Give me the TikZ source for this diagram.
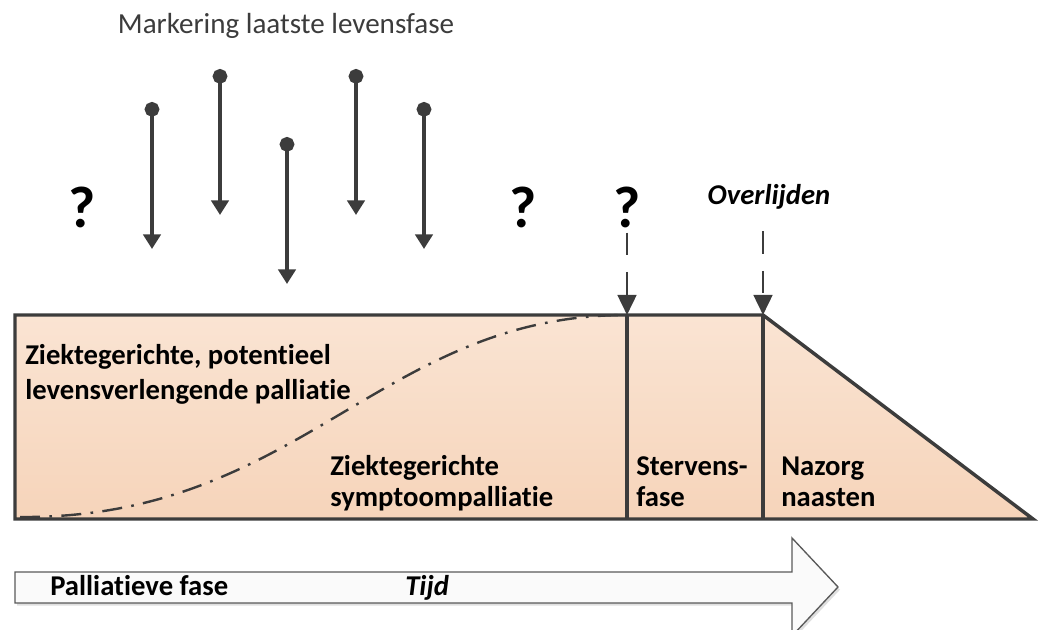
\documentclass[tikz,border=0pt]{standalone}
\usepackage{fontspec}
\setmainfont{Carlito}[Ligatures={NoCommon,NoContextual}]
\usetikzlibrary{arrows.meta,shadows}

\definecolor{linegray}{RGB}{60,60,60}
\definecolor{peachtop}{RGB}{250,228,211}
\definecolor{peachbot}{RGB}{246,212,186}

\tikzset{
  boxtext/.style={font=\fontsize{21.5}{25}\selectfont\bfseries, anchor=base west, inner sep=0pt},
  query/.style={font=\fontsize{44}{50}\selectfont\bfseries, anchor=base, inner sep=0pt},
  marker/.style={line width=3.5pt, draw=linegray, {Circle[length=11pt]}-{Triangle[length=11pt,width=13pt]}},
  phasearrow/.style={line width=2pt, draw=linegray, dash pattern=on 17pt off 12.5pt, -{Triangle[length=15pt,width=14pt]}},
}

\begin{document}
\begin{tikzpicture}[x=0.75pt, y=-0.75pt]
    \useasboundingbox (0,0) rectangle (1043,630);

    % Title
    \node[font=\fontsize{21.8}{25}\selectfont, text=linegray, anchor=base, inner sep=0pt] (title) at (286,34) {Markering laatste levensfase};

    % Markers
    \coordinate (m1s) at (152,102); \coordinate (m1e) at (152,249);
    \coordinate (m2s) at (220,69);  \coordinate (m2e) at (220,215);
    \coordinate (m3s) at (287,137); \coordinate (m3e) at (287,284);
    \coordinate (m4s) at (356,69);  \coordinate (m4e) at (356,215);
    \coordinate (m5s) at (424,102); \coordinate (m5e) at (424,249);
    \draw[marker] (m1s) -- (m1e);
    \draw[marker] (m2s) -- (m2e);
    \draw[marker] (m3s) -- (m3e);
    \draw[marker] (m4s) -- (m4e);
    \draw[marker] (m5s) -- (m5e);

    % Question marks
    \node[query] (q1) at (82,228) {?};
    \node[query] (q2) at (523,228) {?};
    \node[query] (q3) at (627,228) {?};
    \node[font=\fontsize{21.5}{25}\selectfont\bfseries\itshape, anchor=base, inner sep=0pt] (dood) at (769,205) {Overlijden};

    % Phase block
    \coordinate (tl) at (15,315);
    \coordinate (bl) at (15,519);
    \coordinate (sterv) at (627,315);
    \coordinate (overl) at (763,315);
    \coordinate (tip) at (1033,519);
    \draw[line width=2.6pt, draw=linegray, top color=peachtop, bottom color=peachbot] (tl) -- (overl) -- (tip) -- (bl) -- cycle;
    \draw[line width=2.4pt, draw=linegray] (sterv) -- (sterv |- bl);
    \draw[line width=2.4pt, draw=linegray] (overl) -- (overl |- bl);

    % Transition curve
    \draw[line width=1.8pt, draw=linegray, dash pattern=on 15pt off 7pt on 2pt off 7pt] (20,517) .. controls (300,519) and (380,315) .. (sterv);

    % Phase arrows
    \draw[phasearrow, shorten <=3pt] (q3.south) -- (sterv);
    \draw[phasearrow, shorten <=16pt] (dood.south -| overl) -- (overl);

    % Block labels
    \node[boxtext] (z1) at (25,365) {Ziektegerichte, potentieel};
    \node[boxtext] (z2) at (25,400) {levensverlengende palliatie};
    \node[boxtext] (s1) at (330,476) {Ziektegerichte};
    \node[boxtext] (s2) at (330,507) {symptoompalliatie};
    \node[boxtext] (st1) at (636,476) {Stervens-};
    \node[boxtext] (st2) at (636,507) {fase};
    \node[boxtext] (nz1) at (781,476) {Nazorg};
    \node[boxtext] (nz2) at (781,507) {naasten};

    % Time arrow
    \draw[line width=1pt, draw=linegray!85, fill=gray!4, drop shadow={shadow xshift=1.5pt, shadow yshift=-2pt, opacity=0.25}]
        (15,572) -- (792,572) -- (792,538) -- (838,587) -- (792,636) -- (792,603) -- (15,603) -- cycle;
    \node[boxtext] (pf) at (50,596) {Palliatieve fase};
    \node[boxtext, font=\fontsize{21.5}{25}\selectfont\bfseries\itshape] (tijd) at (405,596) {Tijd};
\end{tikzpicture}
\end{document}
